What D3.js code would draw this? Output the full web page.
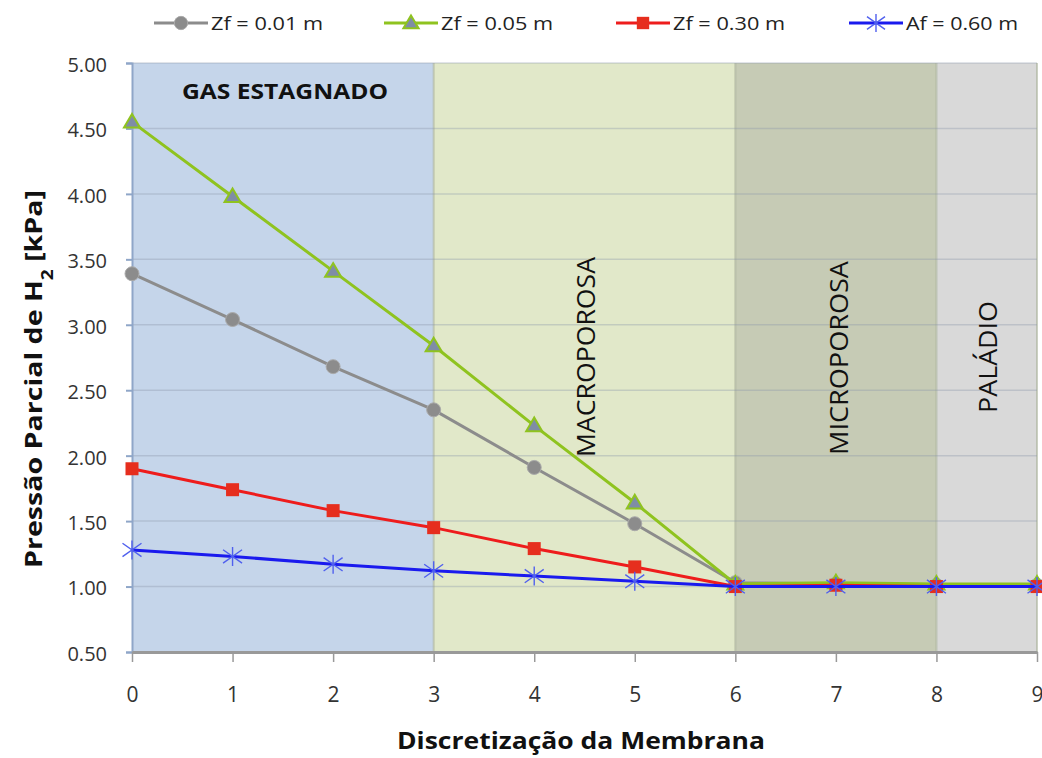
<!DOCTYPE html>
<html>
<head>
<meta charset="utf-8">
<script src="https://cdn.jsdelivr.net/npm/d3@7"></script>
<style>
  body { margin: 0; background: #fff; }
  text { font-family: "Open Sans", "DejaVu Sans", sans-serif; }
</style>
</head>
<body>
<svg id="chart" width="1042" height="758"></svg>
<script>
// discretization points
const points = [0, 1, 2, 3, 4, 5, 6, 7, 8, 9];
const seriesNames = ["Zf = 0.01 m", "Zf = 0.05 m", "Zf = 0.30 m", "Af = 0.60 m"];
const zf001 = [3.39, 3.04, 2.68, 2.35, 1.91, 1.48, 1.03, 1.02, 1.01, 1.01];
const zf005 = [4.55, 3.98, 3.41, 2.84, 2.23, 1.64, 1.02, 1.03, 1.02, 1.02];
const zf030 = [1.90, 1.74, 1.58, 1.45, 1.29, 1.15, 1.00, 1.01, 1.00, 1.00];
const af060 = [1.28, 1.23, 1.17, 1.12, 1.08, 1.04, 1.00, 1.00, 1.00, 1.00];
const yTicks = [0.5, 1, 1.5, 2, 2.5, 3, 3.5, 4, 4.5, 5];
// membrane regions
const regionNames = ["GAS ESTAGNADO", "MACROPOROSA", "MICROPOROSA", "PALÁDIO"];
const regionStart = [0, 3, 6, 8];
const regionEnd = [3, 6, 8, 9];

const svg = d3.select("#chart");
const pLeft = 132, pRight = 1037, pTop = 63, pBottom = 652;

const x = d3.scaleLinear().domain([0, 9]).range([pLeft, pRight]);
const y = d3.scaleLinear().domain([0.5, 5]).range([pBottom, pTop]);

const regionFill = ["#c5d5ea", "#e1e8c9", "#c6cbb5", "#d9d9d9"];
svg.append("g").selectAll("rect")
  .data(regionNames)
  .enter().append("rect")
  .attr("x", (d, i) => x(regionStart[i]))
  .attr("width", (d, i) => x(regionEnd[i]) - x(regionStart[i]))
  .attr("y", pTop)
  .attr("height", pBottom - pTop)
  .attr("fill", (d, i) => regionFill[i]);

// region borders
svg.append("g").selectAll("line")
  .data(regionStart.slice(1).concat([9]))
  .enter().append("line")
  .attr("x1", d => x(d)).attr("x2", d => x(d))
  .attr("y1", pTop).attr("y2", pBottom)
  .attr("stroke", "#a8b09a").attr("stroke-opacity", 0.6).attr("stroke-width", 2);

// gridlines
svg.append("g").selectAll("line")
  .data(yTicks.slice(1))
  .enter().append("line")
  .attr("x1", pLeft).attr("x2", pRight)
  .attr("y1", d => y(d)).attr("y2", d => y(d))
  .attr("stroke", "#8a96a8").attr("stroke-opacity", 0.35).attr("stroke-width", 1.5);

// axes
const yAxis = svg.append("g")
  .attr("transform", "translate(" + pLeft + ",0)")
  .call(d3.axisLeft(y).tickValues(yTicks).tickFormat(d3.format(".2f")).tickSize(6).tickPadding(19));
yAxis.select(".domain").attr("stroke", "#8fa6c8").attr("stroke-width", 2);
yAxis.selectAll(".tick line").attr("stroke", "#8fa6c8").attr("stroke-width", 2);
yAxis.selectAll("text").attr("font-size", 20).attr("fill", "#333").attr("dy", "0.42em");

const xAxis = svg.append("g")
  .attr("transform", "translate(0," + pBottom + ")")
  .call(d3.axisBottom(x).tickValues(points).tickFormat(d3.format("d")).tickSize(10).tickSizeOuter(0).tickPadding(25));
xAxis.select(".domain").attr("stroke", "#999").attr("stroke-width", 3);
xAxis.selectAll(".tick line").attr("stroke", "#999").attr("stroke-width", 1.5);
xAxis.selectAll("text").attr("font-size", 21).attr("fill", "#333");

// region labels
svg.append("text").attr("x", 285).attr("y", 99).attr("text-anchor", "middle")
  .attr("font-size", 22).attr("font-weight", "bold").attr("fill", "#111")
  .attr("textLength", 206).attr("lengthAdjust", "spacingAndGlyphs").text(regionNames[0]);
const vLabel = [[regionNames[1], 595, 357, 200], [regionNames[2], 848, 358, 194], [regionNames[3], 997, 357, 112]];
vLabel.forEach(d => {
  svg.append("text")
    .attr("transform", "translate(" + d[1] + "," + d[2] + ") rotate(-90)")
    .attr("text-anchor", "middle").attr("font-size", 26).attr("fill", "#111")
    .attr("textLength", d[3]).attr("lengthAdjust", "spacingAndGlyphs")
    .text(d[0]);
});

const series = [
  { name: seriesNames[0], values: zf001, color: "#8c8c8c", marker: "circle" },
  { name: seriesNames[1], values: zf005, color: "#8fc31f", marker: "triangle" },
  { name: seriesNames[2], values: zf030, color: "#ee1c1c", marker: "square" },
  { name: seriesNames[3], values: af060, color: "#1a1aee", marker: "star" }
];

const line = d3.line().x((d, i) => x(points[i])).y(d => y(d));

function drawMarker(g, type, cx, cy, s) {
  if (type === "circle") {
    g.append("circle").attr("cx", cx).attr("cy", cy).attr("r", 7 * s).attr("fill", "#8c8c8c").attr("stroke", "#aaa").attr("stroke-width", 1);
  } else if (type === "triangle") {
    const h = 8 * s;
    g.append("path").attr("d", `M${cx},${cy - h}L${cx + h},${cy + h * 0.7}L${cx - h},${cy + h * 0.7}Z`)
      .attr("fill", "#7f8da6").attr("stroke", "#8fc31f").attr("stroke-width", 2);
  } else if (type === "square") {
    const h = 6.5 * s;
    g.append("rect").attr("x", cx - h).attr("y", cy - h).attr("width", 2 * h).attr("height", 2 * h)
      .attr("fill", "#e62e1e");
  } else {
    const h = 9.5 * s;
    const p = `M${cx - h},${cy - h * 0.7}L${cx + h},${cy + h * 0.7}M${cx - h},${cy + h * 0.7}L${cx + h},${cy - h * 0.7}M${cx},${cy - h}L${cx},${cy + h}`;
    g.append("path").attr("d", p).attr("stroke", "#5060ee").attr("stroke-width", 1.4).attr("fill", "none");
  }
}

series.forEach(s => {
  const g = svg.append("g");
  g.append("path").datum(s.values).attr("d", line)
    .attr("fill", "none").attr("stroke", s.color).attr("stroke-width", 3);
  s.values.forEach((v, i) => drawMarker(g, s.marker, x(points[i]), y(v), 1));
});

// legend
const legendPos = [154, 384, 616, 849];
const lg = svg.append("g");
series.forEach((s, i) => {
  const lx = legendPos[i];
  lg.append("line").attr("x1", lx).attr("x2", lx + 54).attr("y1", 23).attr("y2", 23)
    .attr("stroke", s.color).attr("stroke-width", 3);
  drawMarker(lg, s.marker, lx + 27, 23, 0.95);
  lg.append("text").attr("x", lx + 57).attr("y", 30).attr("font-size", 19).attr("fill", "#222")
    .attr("textLength", 112).attr("lengthAdjust", "spacingAndGlyphs").text(s.name);
});

// axis titles
svg.append("text").attr("x", 581).attr("y", 749).attr("text-anchor", "middle")
  .attr("font-size", 23).attr("font-weight", "bold").attr("fill", "#111")
  .attr("textLength", 368).attr("lengthAdjust", "spacingAndGlyphs").text("Discretização da Membrana");
svg.append("text")
  .attr("transform", "translate(42,379) rotate(-90)")
  .attr("text-anchor", "middle").attr("font-size", 24).attr("font-weight", "bold").attr("fill", "#111")
  .attr("textLength", 378).attr("lengthAdjust", "spacingAndGlyphs")
  .html('Pressão Parcial de H<tspan baseline-shift="sub" font-size="16">2</tspan> [kPa]');
</script>
</body>
</html>
